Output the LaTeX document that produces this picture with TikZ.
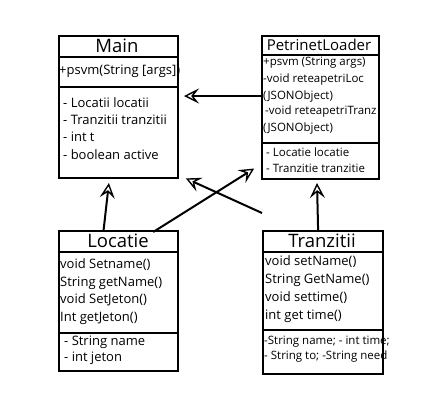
\documentclass[tikz,border=0pt]{standalone}
\usepackage{fontspec}
\setmainfont{Open Sans}
\usetikzlibrary{arrows.meta, positioning, calc}
\tikzset{
  classbox/.style={rectangle, draw=black, line width=2.2pt, anchor=north west, inner sep=0pt},
  divider/.style={line width=2.2pt},
  title/.style={font=\fontsize{#1}{#1}\selectfont, anchor=center},
  title/.default=18.5,
  member/.style={font=\fontsize{#1}{#1}\selectfont, anchor=west, inner sep=0pt},
  member/.default=13,
  assoc/.style={-{Stealth[open, length=15pt, width=15pt, inset=6pt, line width=1.4pt]}, line width=2pt, shorten >=1pt},
}
\begin{document}
\begin{tikzpicture}[x=1pt, y=-1pt]
  \useasboundingbox (0,0) rectangle (424,400);
  % Main
  \node[classbox, minimum width=119pt, minimum height=142pt] (main) at (58,35) {};
  \draw[divider] (58,57) -- (177,57);
  \draw[divider] (58,87) -- (177,87);
  \node[title] (mainT) at (117,46) {Main};
  \node[member] (m1) at (59,71) {+psvm(String [args])};
  \node[member] (m2) at (63,103) {- Locatii locatii};
  \node[member] (m3) at (63,120) {- Tranzitii tranzitii};
  \node[member] (m4) at (63,137) {- int t};
  \node[member] (m5) at (63,155) {- boolean active};
  % PetrinetLoader
  \node[classbox, minimum width=117pt, minimum height=143pt] (loader) at (261,35) {};
  \draw[divider] (261,55) -- (378,55);
  \draw[divider] (261,143) -- (378,143);
  \node[title=15] (loaderT) at (319,45) {PetrinetLoader};
  \node[member=11.5] (p1) at (263,63) {+psvm (String args)};
  \node[member=11.5] (p2) at (263,80) {-void reteapetriLoc};
  \node[member=11.5] (p3) at (263,97) {(JSONObject)};
  \node[member=11.5] (p4) at (265,112) {-void reteapetriTranz};
  \node[member=11.5] (p5) at (263,129) {(JSONObject)};
  \node[member=11.5] (p6) at (266,152) {- Locatie locatie};
  \node[member=11.5] (p7) at (266,168) {- Tranzitie tranzitie};
  % Locatie
  \node[classbox, minimum width=119pt, minimum height=140pt] (locatie) at (58,230) {};
  \draw[divider] (58,252) -- (177,252);
  \draw[divider] (58,333) -- (177,333);
  \node[title] (locatieT) at (118,241) {Locatie};
  \node[member] (l1) at (60,265) {void Setname()};
  \node[member] (l2) at (60,283) {String getName()};
  \node[member] (l3) at (60,300) {void SetJeton()};
  \node[member] (l4) at (60,318) {Int getJeton()};
  \node[member] (l5) at (64,342) {- String name};
  \node[member] (l6) at (64,358) {- int jeton};
  % Tranzitii
  \node[classbox, minimum width=120pt, minimum height=143pt] (tranzitii) at (262,230) {};
  \draw[divider] (262,252) -- (382,252);
  \draw[divider] (262,330) -- (382,330);
  \node[title] (tranzitiiT) at (322,241) {Tranzitii};
  \node[member] (t1) at (265,262) {void setName()};
  \node[member] (t2) at (265,280) {String GetName()};
  \node[member] (t3) at (265,298) {void settime()};
  \node[member] (t4) at (265,316) {int get time()};
  \node[member=11.5] (t5) at (264,342) {-String name; - int time;};
  \node[member=11.5] (t6) at (264,357) {- String to; -String need};
  % connectors
  \coordinate (mainIn) at (183,96);
  \coordinate (mainLow) at (185,178);
  \coordinate (mainBot) at (109,182);
  \coordinate (loaderBot) at (317,182);
  \coordinate (loaderLow) at (255,168);
  \draw[assoc] (loader.west |- mainIn) -- (mainIn);
  \draw[assoc] ($(locatie.north)+(-15,0)$) -- (mainBot);
  \draw[assoc] ($(tranzitii.north)+(-5,0)$) -- (loaderBot);
  \draw[assoc] ($(locatie.north east)+(-26,2)$) -- (loaderLow);
  \draw[assoc] ($(tranzitii.north west)+(0,-17)$) -- (mainLow);
\end{tikzpicture}
\end{document}
